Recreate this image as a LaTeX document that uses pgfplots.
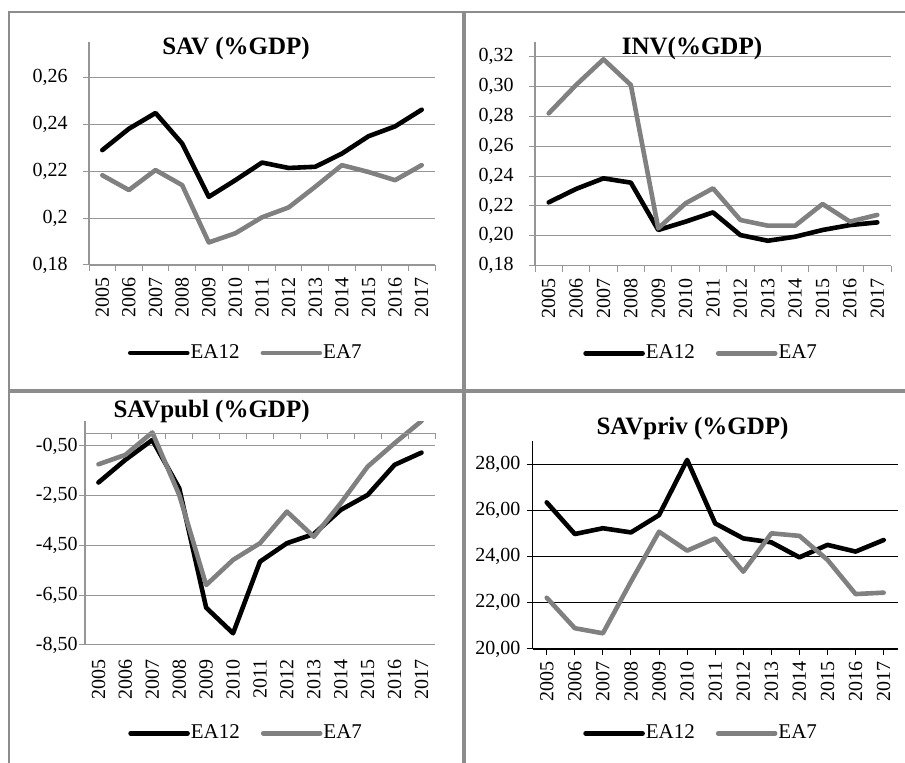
\documentclass[border=0pt]{standalone}
\usepackage{fontspec}
\setmainfont{Liberation Serif}
\usepackage{pgfplots}
\usepackage{pgfplotstable}
\pgfplotsset{compat=1.18}
\definecolor{easeven}{RGB}{128,128,128}
\definecolor{gridc}{RGB}{150,150,150}
\definecolor{sepc}{RGB}{140,140,140}

\pgfplotstableread{
x ea12 ea7
0 0.2289 0.2182
1 0.2380 0.2119
2 0.2447 0.2204
3 0.2317 0.2140
4 0.2090 0.1896
5 0.2161 0.1935
6 0.2236 0.2003
7 0.2213 0.2045
8 0.2218 0.2133
9 0.2274 0.2225
10 0.2348 0.2196
11 0.2390 0.2161
12 0.2461 0.2225
}\tabsav
\pgfplotstableread{
x ea12 ea7
0 0.2224 0.2820
1 0.2314 0.3010
2 0.2385 0.3182
3 0.2356 0.3010
4 0.2039 0.2050
5 0.2095 0.2218
6 0.2157 0.2318
7 0.2005 0.2106
8 0.1967 0.2068
9 0.1994 0.2068
10 0.2039 0.2213
11 0.2072 0.2095
12 0.2090 0.2140
}\tabinv
\pgfplotstableread{
x ea12 ea7
0 -1.97 -1.24
1 -1.06 -0.86
2 -0.26 0.04
3 -2.20 -2.47
4 -7.00 -6.09
5 -8.03 -5.08
6 -5.15 -4.41
7 -4.41 -3.14
8 -4.04 -4.15
9 -3.07 -2.80
10 -2.47 -1.33
11 -1.26 -0.39
12 -0.77 0.50
}\tabpub
\pgfplotstableread{
x ea12 ea7
0 26.35 22.22
1 24.98 20.90
2 25.23 20.68
3 25.05 22.92
4 25.80 25.08
5 28.19 24.26
6 25.44 24.79
7 24.79 23.35
8 24.62 25.01
9 23.97 24.90
10 24.51 23.86
11 24.22 22.38
12 24.72 22.44
}\tabpriv

\pgfplotsset{
  excel/.style={
    anchor=south west, scale only axis,
    xmin=-0.5, xmax=12.5,
    axis lines=left,
    axis line style={-, draw=gridc, line width=0.6pt},
    tick style={draw=gridc, line width=0.5pt},
    tick align=outside, major tick length=3pt,
    ymajorgrids, grid style={draw=gridc, line width=0.5pt},
    xticklabels={2005,2006,2007,2008,2009,2010,2011,2012,2013,2014,2015,2016,2017},
    xticklabel style={rotate=90, anchor=east, font=\fontsize{10}{12}\selectfont, inner ysep=1pt, inner xsep=3.2pt},
    yticklabel style={font=\fontsize{10}{12}\selectfont, inner ysep=1pt},
    legend columns=2,
    legend image code/.code={\draw[##1] (0pt,0pt) -- (28.5pt,0pt);},
    legend style={draw=none, fill=none, inner sep=0pt, outer sep=0pt, anchor=west,
      font=\fontsize{10.5}{12}\selectfont,
      nodes={inner sep=0.5pt},
      /tikz/every even column/.append style={column sep=10pt}},
    clip=true,
  },
  intervalx/.style={xtick={-0.5,0.5,...,12.5}, x tick label as interval},
  ea12/.style={black, line width=2.3pt, line join=round, line cap=round},
  ea7/.style={easeven, line width=2.3pt, line join=round, line cap=round},
}

\begin{document}
\begin{tikzpicture}
\path[use as bounding box] (0,0) rectangle (452.5pt,-381.5pt);

% frame
\draw[sepc, line width=1pt] (4.15pt,-6.15pt) -- (452.5pt,-6.15pt);
\draw[sepc, line width=1pt] (4.65pt,-5.65pt) -- (4.65pt,-381.5pt);
\draw[sepc, line width=2pt] (232.15pt,-6.15pt) -- (232.15pt,-381.5pt);
\draw[sepc, line width=2pt] (4.65pt,-195.65pt) -- (452.5pt,-195.65pt);

% Panel 1: SAV
\begin{axis}[excel, intervalx,
  at={(44.5pt,-132.5pt)}, width=173pt, height=111.6pt,
  ymin=0.18, ymax=0.275,
  ytick={0.18,0.20,0.22,0.24,0.26},
  yticklabels={{0,18},{0,2},{0,22},{0,24},{0,26}},
  yticklabel style={inner xsep=7.5pt},
  legend style={at={(0.1127,-0.394)}},
]
\addplot[ea12] table[x=x,y=ea12]{\tabsav};
\addlegendentry{EA12}
\addplot[ea7] table[x=x,y=ea7]{\tabsav};
\addlegendentry{EA7}
\end{axis}

% Panel 2: INV
\begin{axis}[excel, intervalx,
  at={(267.5pt,-132.85pt)}, width=178pt, height=112pt,
  ymin=0.18, ymax=0.33,
  ytick={0.18,0.20,0.22,0.24,0.26,0.28,0.30,0.32},
  yticklabels={{0,18},{0,20},{0,22},{0,24},{0,26},{0,28},{0,30},{0,32}},
  yticklabel style={inner xsep=7.5pt},
  legend style={at={(0.1357,-0.391)}},
]
\addplot[ea12] table[x=x,y=ea12]{\tabinv};
\addlegendentry{EA12}
\addplot[ea7] table[x=x,y=ea7]{\tabinv};
\addlegendentry{EA7}
\end{axis}

% Panel 3: SAVpubl
\begin{axis}[excel, intervalx,
  at={(42.5pt,-322.5pt)}, width=175pt, height=112pt,
  ymin=-8.5, ymax=0.5,
  x axis line style={draw=gridc, line width=0.5pt},
  x tick style={draw=none},
  xticklabel style={inner xsep=4pt},
  ytick={-8.5,-6.5,-4.5,-2.5,-0.5},
  yticklabels={{-8,50},{-6,50},{-4,50},{-2,50},{-0,50}},
  yticklabel style={inner xsep=0.5pt},
  legend style={at={(0.1237,-0.394)}},
]
\addplot[ea12] table[x=x,y=ea12]{\tabpub};
\addlegendentry{EA12}
\addplot[ea7] table[x=x,y=ea7]{\tabpub};
\addlegendentry{EA7}
\end{axis}
\begin{axis}[anchor=south west, scale only axis,
  at={(42.5pt,-322.5pt)}, width=175pt, height=112pt,
  xmin=-0.5, xmax=12.5, ymin=-8.5, ymax=0.5,
  axis y line=none, axis x line=middle,
  axis line style={-, draw=gridc, line width=0.6pt},
  xtick={-0.5,0.5,...,12.5}, xticklabels={},
  tick style={draw=gridc, line width=0.5pt},
  tick align=outside, major tick length=3pt,
]
\end{axis}

% Panel 4: SAVpriv
\begin{axis}[excel,
  at={(266.35pt,-324.5pt)}, width=182.5pt, height=103.9pt,
  xtick={0,1,...,12},
  axis line style={-, draw=black, line width=0.6pt},
  tick style={draw=black, line width=0.5pt},
  grid style={draw=black, line width=0.5pt},
  ymin=20, ymax=29,
  ytick={20,22,24,26,28},
  yticklabels={{20,00},{22,00},{24,00},{26,00},{28,00}},
  yticklabel style={inner xsep=3pt},
  legend style={at={(0.1386,-0.406)}},
]
\addplot[ea12] table[x=x,y=ea12]{\tabpriv};
\addlegendentry{EA12}
\addplot[ea7] table[x=x,y=ea7]{\tabpriv};
\addlegendentry{EA7}
\end{axis}

% titles
\node[anchor=base, font=\bfseries\fontsize{12.5}{14}\selectfont] at (118pt,-27.5pt) {SAV (\%GDP)};
\node[anchor=base, font=\bfseries\fontsize{12.5}{14}\selectfont] at (346pt,-27.5pt) {INV(\%GDP)};
\node[anchor=base, font=\bfseries\fontsize{12.5}{14}\selectfont] at (105.8pt,-209pt) {SAVpubl (\%GDP)};
\node[anchor=base, font=\bfseries\fontsize{12.5}{14}\selectfont] at (346.25pt,-217.5pt) {SAVpriv (\%GDP)};
\end{tikzpicture}
\end{document}
